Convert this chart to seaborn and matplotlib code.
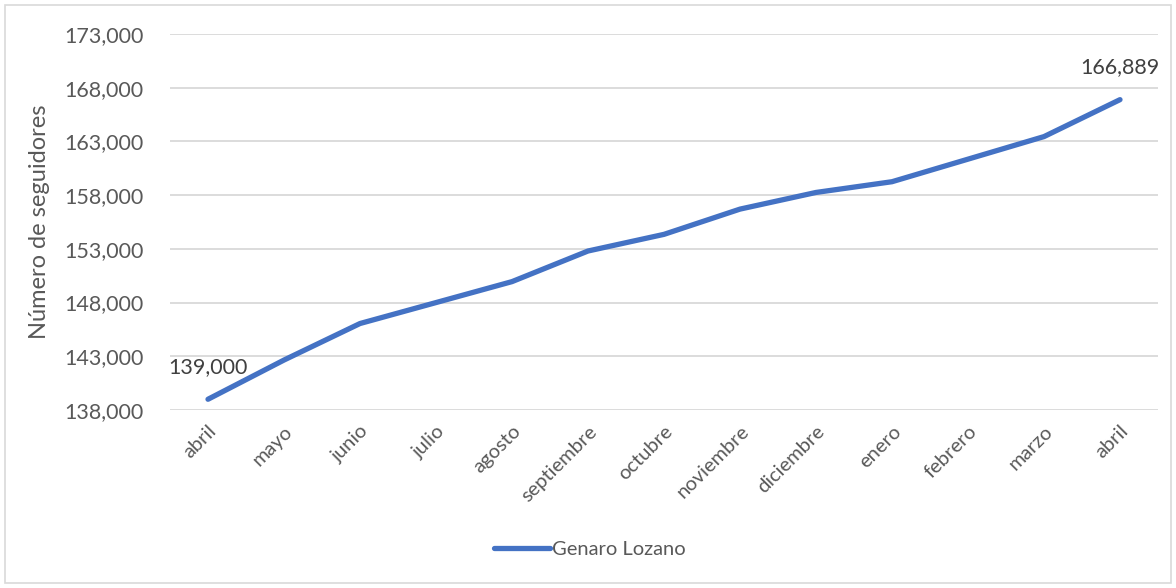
import matplotlib
matplotlib.use("Agg")
import matplotlib.pyplot as plt
import seaborn as sns
import pandas as pd
from matplotlib.ticker import FuncFormatter
from matplotlib.lines import Line2D

meses = ["abril", "mayo", "junio", "julio", "agosto", "septiembre", "octubre",
         "noviembre", "diciembre", "enero", "febrero", "marzo", "abril"]
seguidores = [139000, 142650, 146050, 148000, 149950, 152800, 154350,
              156700, 158250, 159250, 161350, 163450, 166889]
serie = "Genaro Lozano"

sns.set_theme(style="white")
plt.rcParams["font.family"] = ["Lato", "DejaVu Sans"]

df = pd.DataFrame({"pos": range(len(meses)), "valor": seguidores, "serie": serie})

fig = plt.figure(figsize=(11.76, 5.88), dpi=100)
ax = fig.add_axes([170 / 1176, 1 - 410 / 588, (1158 - 170) / 1176, (410 - 34) / 588])

azul = "#4472C4"
sns.lineplot(data=df, x="pos", y="valor", hue="serie", palette=[azul],
             linewidth=3.8, ax=ax, legend=False, solid_capstyle="round")

ax.set_xlim(-0.5, len(meses) - 0.5)
ax.set_ylim(138000, 173000)
ax.set_yticks(range(138000, 173001, 5000))
ax.yaxis.set_major_formatter(FuncFormatter(lambda v, p: f"{int(v):,}"))
ax.set_xticks(range(len(meses)))
ax.set_xticklabels(meses, rotation=45, ha="right", rotation_mode="anchor",
                   fontsize=14.5, color="#595959")
ax.tick_params(axis="y", labelsize=15.5, labelcolor="#595959", length=0, pad=19)
ax.tick_params(axis="x", length=0, pad=9)
ax.grid(axis="y", color="#D9D9D9", linewidth=1.3)
ax.grid(axis="x", visible=False)
for s in ax.spines.values():
    s.set_visible(False)
ax.set_xlabel("")
ax.set_ylabel("Número de seguidores", fontsize=17, color="#595959", labelpad=10)

# etiquetas de primer y último valor
ax.annotate(f"{seguidores[0]:,}", (0, seguidores[0]), xytext=(0, 16),
            textcoords="offset points", ha="center", va="bottom",
            fontsize=15.5, color="#404040")
ax.annotate(f"{seguidores[-1]:,}", (len(meses) - 1, seguidores[-1]), xytext=(0, 16),
            textcoords="offset points", ha="center", va="bottom",
            fontsize=15.5, color="#404040")

# leyenda inferior
handle = Line2D([], [], color=azul, linewidth=3.8)
fig.legend([handle], [serie], loc="center", bbox_to_anchor=(590 / 1176, 1 - 549 / 588),
           frameon=False, fontsize=14.5, handlelength=2.8, handletextpad=0.1,
           labelcolor="#595959")

# marco exterior
fig.patches.append(plt.Rectangle((5 / 1176, 5 / 588), 1 - 10 / 1176, 1 - 10 / 588,
                                 transform=fig.transFigure, fill=False,
                                 edgecolor="#D9D9D9", linewidth=1.2))

fig.savefig("out.png", dpi=100, facecolor="white")
